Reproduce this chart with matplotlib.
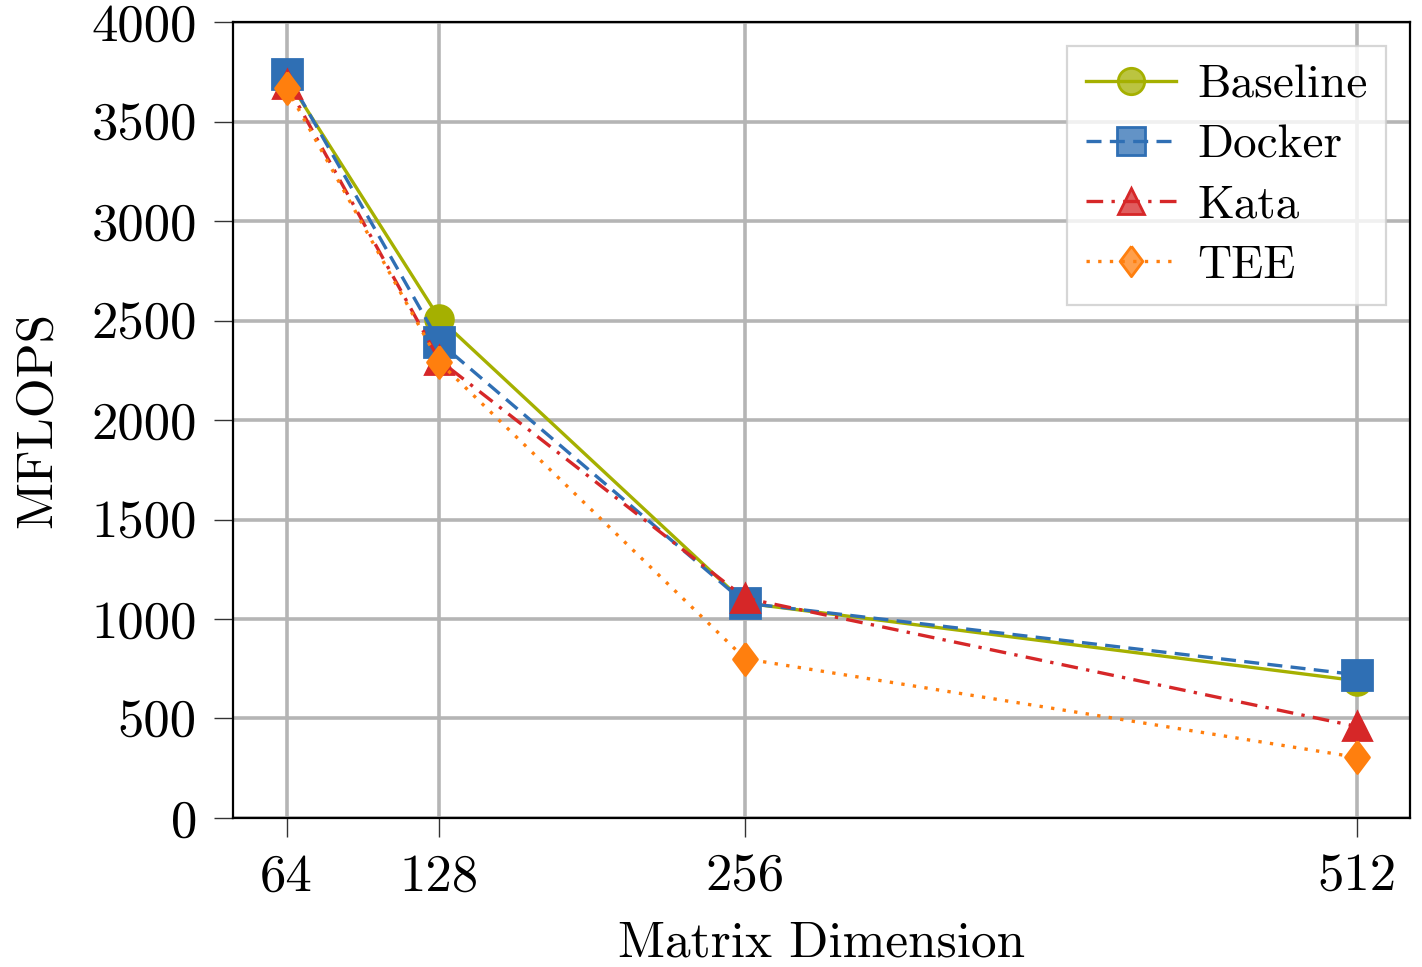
import matplotlib
matplotlib.use("Agg")
import matplotlib.pyplot as plt
from matplotlib.colors import to_rgba

# ---------- Dados ----------
dims = [64, 128, 256, 512]
baseline = [3720, 2510, 1080, 690]
docker = [3740, 2390, 1080, 720]
kata = [3690, 2300, 1105, 460]
tee = [3670, 2290, 800, 305]
yticks = [0, 500, 1000, 1500, 2000, 2500, 3000, 3500, 4000]

plt.rcParams["font.family"] = ["cmr10", "DejaVu Serif"]
plt.rcParams["axes.formatter.use_mathtext"] = True

fig = plt.figure(figsize=(7.11, 4.835), dpi=200)
ax = fig.add_axes([0.1639, 0.1541, 0.8277, 0.8231])

thin_d = [(0, 1), (0.75, 0), (0, -1), (-0.75, 0), (0, 1)]

ax.plot(dims, baseline, color="#a5b000", linestyle="-", linewidth=1.2,
        marker="o", markersize=10, label="Baseline", zorder=3)
ax.plot(dims, docker, color="#2f6fb4", linestyle=(0, (4.5, 2.5)), linewidth=1.2,
        marker="s", markersize=10.5, label="Docker", zorder=3)
ax.plot(dims, kata, color="#d62728", linestyle=(0, (5, 2.5, 1, 2.5)), linewidth=1.2,
        marker="^", markersize=10, label="Kata", zorder=3)
ax.plot(dims, tee, color="#ff7f0e", linestyle=(0, (1, 2.5)), linewidth=1.2,
        marker=thin_d, markersize=11.5, label="TEE", zorder=3)

ax.set_xlim(41.6, 534.4)
ax.set_ylim(0, 4000)
ax.set_xticks(dims)
ax.set_xticklabels([str(d) for d in dims])
ax.set_yticks(yticks)
ax.set_yticklabels([str(v) for v in yticks])
ax.tick_params(direction="out", length=7, width=0.5, color="#333333",
               labelsize=19, pad=6)
ax.grid(True, color="#b5b5b5", linewidth=1.3)
ax.set_axisbelow(True)
for s in ax.spines.values():
    s.set_linewidth(0.8)

ax.set_xlabel("Matrix Dimension", fontsize=18.5, labelpad=7)
ax.set_ylabel("MFLOPS", fontsize=18.5, labelpad=11)

leg = ax.legend(loc="upper right", fontsize=17, fancybox=False,
                framealpha=0.8, edgecolor="#cccccc", handlelength=1.9,
                labelspacing=0.38, borderpad=0.4, handletextpad=0.45,
                markerscale=0.95)
leg.get_frame().set_linewidth(0.8)
for h in leg.legend_handles:
    c = h.get_color()
    h.set_markerfacecolor(to_rgba(c, 0.75))
    h.set_markeredgecolor(c)

fig.savefig("out.png", dpi=200)
